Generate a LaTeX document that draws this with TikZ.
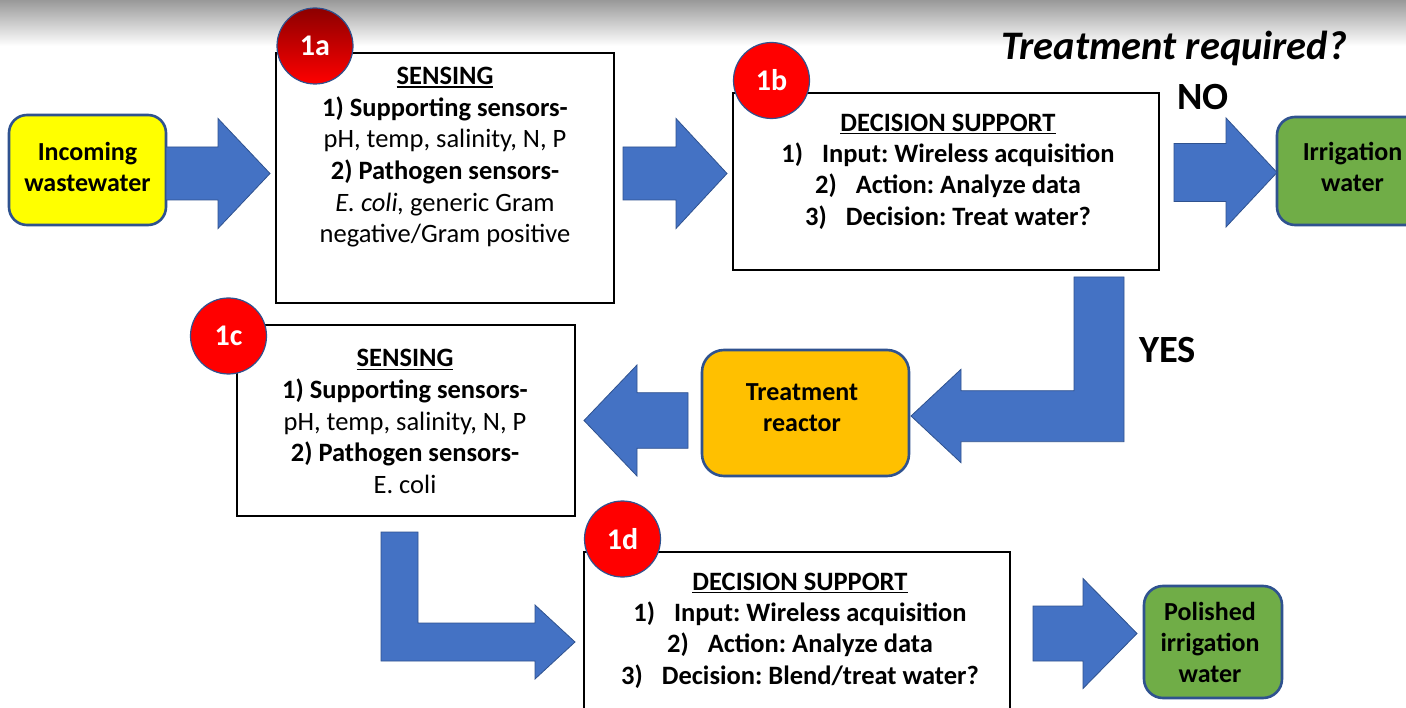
\documentclass[tikz,border=0pt]{standalone}
\usepackage{fontspec}
\setmainfont{Carlito}
\usetikzlibrary{shapes.geometric}
\definecolor{arrblue}{HTML}{4472C4}
\definecolor{edgeblue}{HTML}{2F528F}
\definecolor{boxyellow}{HTML}{FFFF00}
\definecolor{boxorange}{HTML}{FFC000}
\definecolor{boxgreen}{HTML}{70AD47}
\definecolor{circred}{HTML}{FF0000}
\newcommand\myul[1]{\setbox0=\hbox{#1}\rlap{\rule[-3.2pt]{\wd0}{1.5pt}}\box0}
\newcommand\gapnum{\hspace{19pt}}
\frenchspacing
\tikzset{
  txtbox/.style={draw=black, line width=1.3pt, fill=white, rectangle, inner sep=0pt},
  rbox/.style={draw=edgeblue, line width=2.6pt, rectangle, inner sep=0pt},
  bodytext/.style={align=center, anchor=north, inner sep=0pt, font=\fontsize{26.5}{31.6}\selectfont},
  roundtext/.style={align=center, anchor=north, inner sep=0pt, font=\fontsize{26}{31}\selectfont\bfseries},
  badge/.style={circle, fill=circred, draw=edgeblue, line width=1.2pt, minimum size=76pt, inner sep=0pt, text=white, font=\fontsize{30}{34}\selectfont\bfseries},
  blockarrow/.style={fill=arrblue, draw=edgeblue, line width=0.8pt, line join=miter},
  bigword/.style={font=\fontsize{38.5}{46}\selectfont\bfseries, inner sep=0pt, anchor=base}
}
% right/left block arrow: start x, head base x, tip x, centre y, shaft half, head half
\newcommand\blockarr[6]{\filldraw[blockarrow] (#1,#4-#5) -- (#2,#4-#5) -- (#2,#4-#6) -- (#3,#4) -- (#2,#4+#6) -- (#2,#4+#5) -- (#1,#4+#5) -- cycle;}
\begin{document}
\frenchspacing
\begin{tikzpicture}[x=1pt,y=-1pt]
\useasboundingbox (0,0) rectangle (1406,708);
\clip (0,0) rectangle (1406,708);
\fill[white] (0,0) rectangle (1406,708);
% top shadow
\shade[top color=black!40, bottom color=white] (0,0) rectangle (1406,46);

% rounded terminal boxes
\node[rbox, fill=boxyellow, rounded corners=18pt, minimum width=157pt, minimum height=110pt] (inc) at (87.5,170) {};
\node[roundtext] (inctext) at (87.5,138.6) {\strut Incoming\\wastewater};
\node[rbox, fill=boxgreen, rounded corners=18pt, minimum width=151pt, minimum height=108pt] (irr) at (1352.5,171) {};
\node[roundtext] (irrtext) at (1352.5,138.3) {\strut Irrigation\\water};
\node[rbox, fill=boxorange, rounded corners=22pt, minimum width=207pt, minimum height=126pt] (reac) at (805.5,413) {};
\node[roundtext] (reactext) at (802,378.3) {\strut Treatment\\reactor};
\node[rbox, fill=boxgreen, rounded corners=19pt, minimum width=138pt, minimum height=112pt] (pol) at (1213,642) {};
\node[roundtext] (poltext) at (1210,598.3) {\strut Polished\\irrigation\\water};

% text boxes
\node[txtbox, minimum width=338pt, minimum height=250pt] (s1a) at (445,178) {};
\node[bodytext] (s1atext) at (445,62.4) {\strut\myul{\textbf{SENSING}}\\ \textbf{1) Supporting sensors-}\\ pH, temp, salinity, N, P\\ \textbf{2) Pathogen sensors-}\\ \textit{E. coli,} generic Gram\\ negative/Gram positive};
\node[txtbox, minimum width=426pt, minimum height=177pt] (d1b) at (946,181.5) {};
\node[bodytext, font=\fontsize{26.5}{31.4}\selectfont\bfseries] (d1btext) at (948,109) {\strut\myul{DECISION SUPPORT}\\ 1)\gapnum Input: Wireless acquisition\\ 2)\gapnum Action: Analyze data\\ 3)\gapnum Decision: Treat water?};
\node[txtbox, minimum width=338pt, minimum height=191pt] (s1c) at (406,420.5) {};
\node[bodytext] (s1ctext) at (405,344.6) {\strut\myul{\textbf{SENSING}}\\ \textbf{1) Supporting sensors-}\\ pH, temp, salinity, N, P\\ \textbf{2) Pathogen sensors-}\\ E. coli};
\node[txtbox, minimum width=426pt, minimum height=180pt] (d1d) at (797,642) {};
\node[bodytext, font=\fontsize{26.5}{31.3}\selectfont\bfseries] (d1dtext) at (800,568) {\strut\myul{DECISION SUPPORT}\\ 1)\gapnum Input: Wireless acquisition\\ 2)\gapnum Action: Analyze data\\ 3)\gapnum Decision: Blend/treat water?};

% badges
\node[badge, top color=red!55!black, middle color=circred, bottom color=circred] (b1a) at (315,46) {1a};
\node[badge] (b1b) at (771.5,80.5) {1b};
\node[badge] (b1c) at (228.5,336) {1c};
\node[badge] (b1d) at (622.5,539) {1d};

% block arrows
\blockarr{166}{218}{270}{173.5}{26.5}{55}
\blockarr{623}{676}{727}{173.5}{26.5}{55}
\blockarr{1174}{1226}{1277}{172.5}{29}{54.5}
\blockarr{688}{637}{584}{420.5}{27.8}{55.5}
\blockarr{1033}{1083}{1137}{633.5}{27.5}{55}
\filldraw[blockarrow] (1074,277) -- (1124,277) -- (1124,441.7) -- (961,441.7) -- (961,462.7) -- (911,416) -- (961,369.3) -- (961,390.7) -- (1074,390.7) -- cycle;
\filldraw[blockarrow] (381,532) -- (418,532) -- (418,623) -- (535,623) -- (535,605) -- (575,642) -- (535,679) -- (535,661) -- (381,661) -- cycle;

% labels
\node[inner sep=0pt, anchor=base, font=\fontsize{40.5}{48}\selectfont\bfseries\itshape] (question) at (1174,59.5) {Treatment required?};
\node[bigword] (no) at (1203,110) {NO};
\node[bigword] (yes) at (1167.5,363) {YES};
\end{tikzpicture}
\end{document}
